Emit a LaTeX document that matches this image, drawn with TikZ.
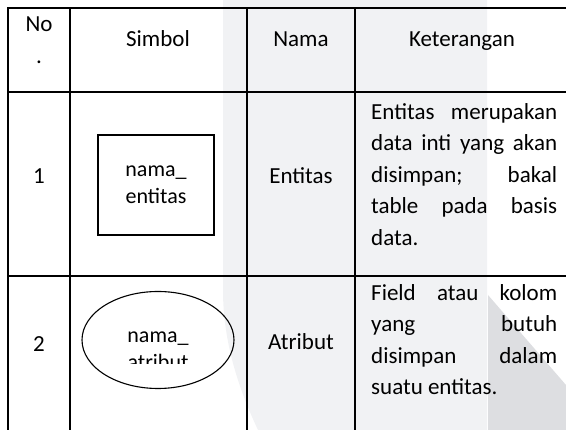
\documentclass[tikz,border=0pt]{standalone}
\usepackage{fontspec}
\setmainfont{Carlito}
\usepackage{xcolor}
\usetikzlibrary{shapes.geometric, positioning}

\definecolor{wmlight}{HTML}{F1F2F4}
\definecolor{wmdark}{HTML}{DDDEE1}

\newlength{\descw}
\setlength{\descw}{186pt}

\begin{document}
\begin{tikzpicture}[
    x=1pt, y=-1pt,
    grid/.style={line width=1.9pt, line cap=rect},
    cell/.style={font=\fontsize{23}{31.5}\selectfont, inner sep=0pt, anchor=base},
    desc/.style={cell, anchor=north west, align=left},
    shapetext/.style={font=\fontsize{22}{27}\selectfont, inner sep=0pt, align=center},
    entbox/.style={rectangle, draw, line width=1.1pt, minimum width=116pt, minimum height=100pt},
    atrbox/.style={ellipse, draw, line width=1.1pt, minimum width=152pt, minimum height=97pt}
]

% Background
\useasboundingbox (0,0) rectangle (566,430);
\fill[wmlight] (223,0) -- (487,0) -- (487,430) -- (258,430) .. controls (232,375) and (223,330) .. (223,290) -- cycle;
\fill[wmdark] (488,295) -- (566,385) -- (566,430) -- (488,430) -- cycle;

% Grid
\draw[grid] (8,440) -- (8,8) -- (575,8);
\draw[grid] (8,92) -- (575,92);
\draw[grid] (8,276) -- (575,276);
\foreach \x in {70,247,355}
    \draw[grid] (\x,8) -- (\x,440);

% Header
\node[cell] (hno) at (39,32) {No};
\node[cell] (hdot) at (39,63.5) {.};
\node[cell] (hsimbol) at (158,47) {Simbol};
\node[cell] (hnama) at (301,47) {Nama};
\node[cell] (hket) at (462,47) {Keterangan};

% Row 1: Entitas
\node[cell] (no1) at (39,184) {1};
\node[entbox, shapetext] (ent) at (156,185) {nama\_\\entitas};
\node[cell] (nama1) at (301,184) {Entitas};
\node[desc] (ket1) at (371,97) {\strut\makebox[\descw][s]{Entitas merupakan}\\
    \makebox[\descw][s]{data inti yang akan}\\
    \makebox[\descw][s]{disimpan; bakal}\\
    \makebox[\descw][s]{table pada basis}\\
    data.};

% Row 2: Atribut
\node[cell] (no2) at (39,352) {2};
\node[atrbox] (atr) at (158,340) {};
\begin{scope}
    \clip (90,300) rectangle (226,364);
    \node[shapetext] (atrtext) at (158,351) {nama\_\\atribut};
\end{scope}
\node[cell] (nama2) at (301,350) {Atribut};
\node[desc] (ket2) at (371,278) {\strut\makebox[\descw][s]{Field atau kolom}\\
    \makebox[\descw][s]{yang butuh}\\
    \makebox[\descw][s]{disimpan dalam}\\
    suatu entitas.};

\end{tikzpicture}
\end{document}
